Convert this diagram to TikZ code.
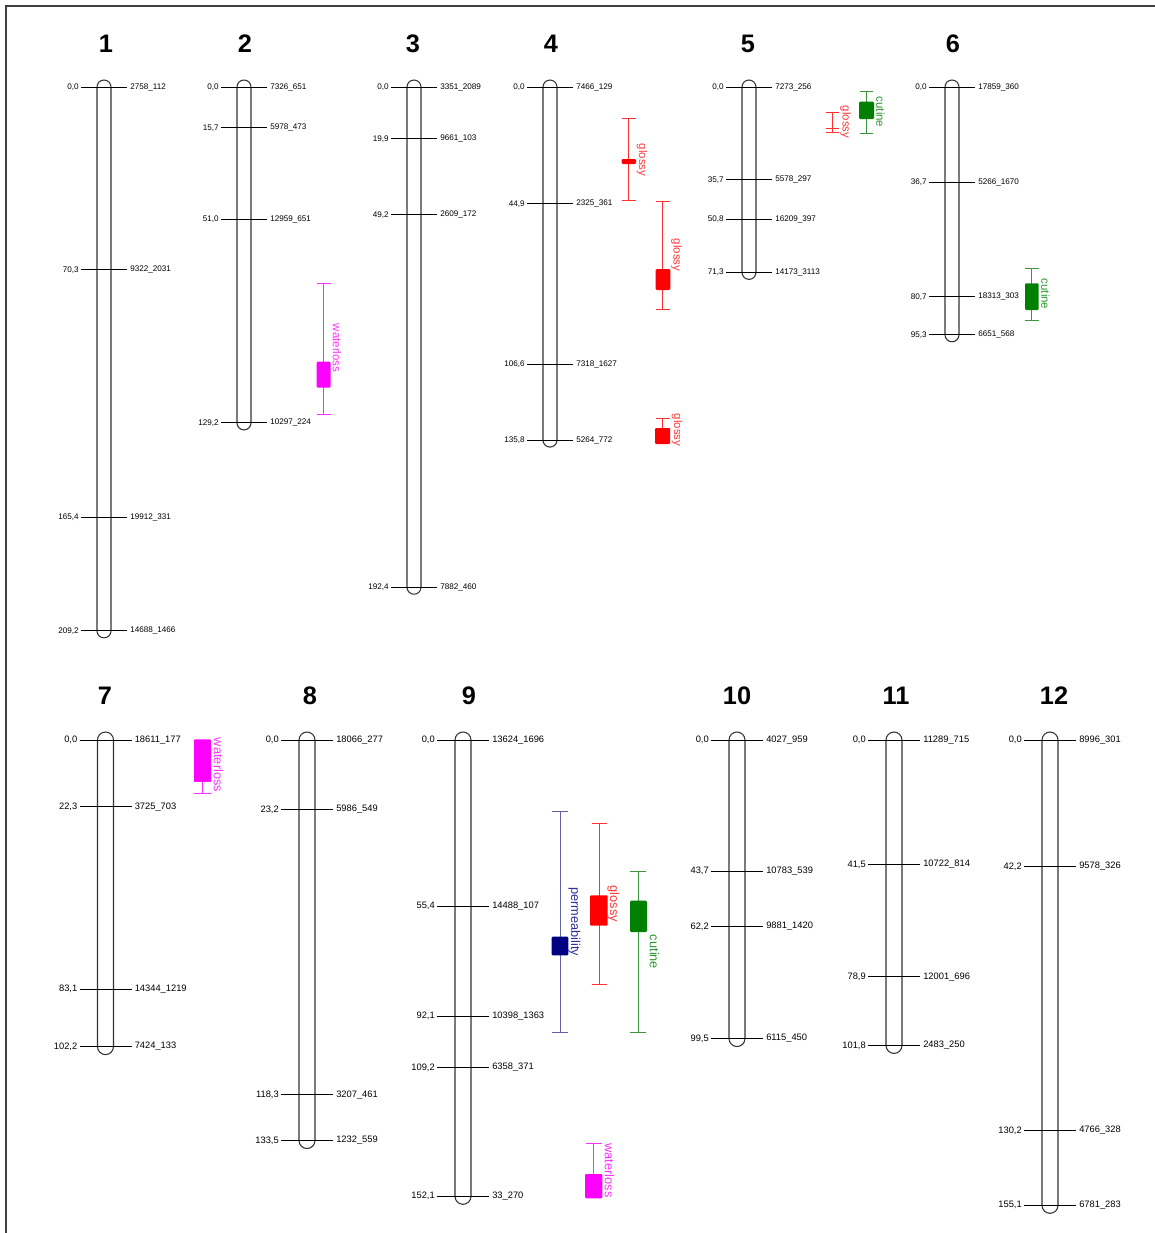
\documentclass[tikz,border=0pt]{standalone}
\usepackage{fontspec}
\setmainfont{Liberation Sans}
\definecolor{glred}{HTML}{FF0000}
\definecolor{glline}{HTML}{FF3030}
\definecolor{gltext}{HTML}{FF3A3A}
\definecolor{cugreen}{HTML}{008000}
\definecolor{culine}{HTML}{3C963C}
\definecolor{cutext}{HTML}{2E962E}
\definecolor{wlmag}{HTML}{FF00FF}
\definecolor{wlline}{HTML}{FF30FF}
\definecolor{pmnavy}{HTML}{000080}
\definecolor{pmline}{HTML}{6262A8}
\definecolor{pmtext}{HTML}{30309A}
\tikzset{
  chrbar/.style={draw=black!80, line width=0.8pt},
  tickln/.style={draw=black, line width=0.75pt},
  toplab/.style={font=\fontsize{6.1}{7}\selectfont, inner sep=0pt},
  botlab/.style={font=\fontsize{7}{8}\selectfont, inner sep=0pt},
  chrnum/.style={font=\fontsize{19}{21}\selectfont\bfseries, inner sep=0pt},
  frameln/.style={draw=black!75, line width=0.8pt},
  gl/.style={draw=glline, line width=0.75pt},
  cu/.style={draw=culine, line width=0.75pt},
  wl/.style={draw=wlline, line width=0.75pt},
  pm/.style={draw=pmline, line width=0.75pt},
  qtop/.style={rotate=-90, inner sep=0pt, font=\fontsize{8.6}{9}\selectfont},
  qbot/.style={rotate=-90, inner sep=0pt, font=\fontsize{9.6}{10}\selectfont},
}
% #1 id, #2 cx, #3 y0, #4 scale, #5 half width, #6 tick half length, #7 length (cM), #8 label style, #9 list
\newcommand\chrom[9]{%
  \draw[chrbar, rounded corners=#5*0.75pt] ({#2-#5},{#3-#5}) rectangle ({#2+#5},{#3+#7*#4+#5});
  \foreach \p/\l/\r [count=\i] in {#9} {
    \draw[tickln] ({#2-#6},{#3+\p*#4}) -- ({#2+#6},{#3+\p*#4});
    \node[#8, anchor=east] (L#1n\i) at ({#2-#6-2},{#3+\p*#4}) {\l};
    \node[#8, anchor=west] (R#1n\i) at ({#2+#6+3},{#3+\p*#4}) {\r};
  }
}
% style, x, ytop, ybot, cap half width
\newcommand\whisk[5]{%
  \draw[#1] (#2,#3) -- (#2,#4);
  \draw[#1] ({#2-#5},#3) -- ({#2+#5},#3);
  \draw[#1] ({#2-#5},#4) -- ({#2+#5},#4);
}
\newcommand\qbox[5]{\fill[#1, rounded corners=0.8pt] (#2,#3) rectangle (#4,#5);}
\begin{document}
\begin{tikzpicture}[x=0.75pt,y=-0.75pt]
\useasboundingbox (0,0) rectangle (1155,1233);
\fill[white] (0,0) rectangle (1155,1233);
\draw[frameln] (6,1233) -- (6,6) -- (1155,6);

% chromosome numbers
\node[chrnum] (n1) at (106,44) {1};
\node[chrnum] (n2) at (245,44) {2};
\node[chrnum] (n3) at (413,44) {3};
\node[chrnum] (n4) at (551,44) {4};
\node[chrnum] (n5) at (748,44) {5};
\node[chrnum] (n6) at (953,44) {6};
\node[chrnum] (n7) at (105,696) {7};
\node[chrnum] (n8) at (310,696) {8};
\node[chrnum] (n9) at (469,696) {9};
\node[chrnum] (n10) at (737,696) {10};
\node[chrnum] (n11) at (896,696) {11};
\node[chrnum] (n12) at (1054,696) {12};

% top row
\chrom{a}{104}{87}{2.6}{7}{23}{209.2}{toplab}{0.0/{0,0}/2758\_112, 70.3/{70,3}/9322\_2031, 165.4/{165,4}/19912\_331, 209.2/{209,2}/14688\_1466}
\chrom{b}{244}{87}{2.6}{7}{23}{129.2}{toplab}{0.0/{0,0}/7326\_651, 15.7/{15,7}/5978\_473, 51.0/{51,0}/12959\_651, 129.2/{129,2}/10297\_224}
\chrom{c}{414}{87}{2.6}{7}{23}{192.4}{toplab}{0.0/{0,0}/3351\_2089, 19.9/{19,9}/9661\_103, 49.2/{49,2}/2609\_172, 192.4/{192,4}/7882\_460}
\chrom{d}{550}{87}{2.6}{7}{23}{135.8}{toplab}{0.0/{0,0}/7466\_129, 44.9/{44,9}/2325\_361, 106.6/{106,6}/7318\_1627, 135.8/{135,8}/5264\_772}
\chrom{e}{749}{87}{2.6}{7}{23}{71.3}{toplab}{0.0/{0,0}/7273\_256, 35.7/{35,7}/5578\_297, 50.8/{50,8}/16209\_397, 71.3/{71,3}/14173\_3113}
\chrom{f}{952}{87}{2.6}{7}{23}{95.3}{toplab}{0.0/{0,0}/17859\_360, 36.7/{36,7}/5266\_1670, 80.7/{80,7}/18313\_303, 95.3/{95,3}/6651\_568}

% bottom row
\chrom{g}{105.5}{740}{3.0}{8}{26}{102.2}{botlab}{0.0/{0,0}/18611\_177, 22.3/{22,3}/3725\_703, 83.1/{83,1}/14344\_1219, 102.2/{102,2}/7424\_133}
\chrom{h}{307}{740}{3.0}{8}{26}{133.5}{botlab}{0.0/{0,0}/18066\_277, 23.2/{23,2}/5986\_549, 118.3/{118,3}/3207\_461, 133.5/{133,5}/1232\_559}
\chrom{i}{463}{740}{3.0}{8}{26}{152.1}{botlab}{0.0/{0,0}/13624\_1696, 55.4/{55,4}/14488\_107, 92.1/{92,1}/10398\_1363, 109.2/{109,2}/6358\_371, 152.1/{152,1}/33\_270}
\chrom{j}{737}{740}{3.0}{8}{26}{99.5}{botlab}{0.0/{0,0}/4027\_959, 43.7/{43,7}/10783\_539, 62.2/{62,2}/9881\_1420, 99.5/{99,5}/6115\_450}
\chrom{k}{894}{740}{3.0}{8}{26}{101.8}{botlab}{0.0/{0,0}/11289\_715, 41.5/{41,5}/10722\_814, 78.9/{78,9}/12001\_696, 101.8/{101,8}/2483\_250}
\chrom{l}{1050}{740}{3.0}{8}{26}{155.1}{botlab}{0.0/{0,0}/8996\_301, 42.2/{42,2}/9578\_326, 130.2/{130,2}/4766\_328, 155.1/{155,1}/6781\_283}

% QTLs, top row
\whisk{wl}{323.5}{283.3}{414}{7}
\qbox{wlmag}{316.7}{361.7}{330.5}{387.7}
\node[qtop, text=wlline] (q1) at (337,348) {waterloss};

\whisk{gl}{628.5}{118}{200.7}{7}
\qbox{glred}{621.7}{159}{636}{164}
\node[qtop, text=gltext] (q2) at (642,160) {glossy};

\whisk{gl}{662.8}{201}{309.3}{7}
\qbox{glred}{655.7}{269}{670.3}{290}
\node[qtop, text=gltext] (q3) at (676.5,255) {glossy};

\whisk{gl}{662.5}{418.3}{428}{7}
\qbox{glred}{655}{428}{670}{444}
\node[qtop, text=gltext] (q4) at (677,430) {glossy};

\draw[gl] (832.7,112.3) -- (832.7,132.7);
\draw[gl] (826.2,112.3) -- (839.2,112.3);
\draw[gl] (826.2,128.7) -- (839.2,128.7);
\draw[gl] (826.2,132.7) -- (839.2,132.7);
\node[qtop, text=gltext] (q5) at (845.5,122) {glossy};

\whisk{cu}{866.7}{91.7}{133.3}{6.5}
\qbox{cugreen}{859}{101.7}{874}{119}
\node[qtop, text=cutext] (q6) at (880.5,112) {cutine};

\whisk{cu}{1031.8}{268.3}{320}{7}
\qbox{cugreen}{1025}{283.3}{1038.7}{310}
\node[qtop, text=cutext] (q7) at (1045.5,294) {cutine};

% QTLs, bottom row
\whisk{wl}{202.5}{781.7}{793.3}{8.5}
\qbox{wlmag}{194}{739.3}{211}{781.7}
\node[qbot, text=wlline] (q8) at (218.5,765) {waterloss};

\whisk{pm}{560}{811}{1032.7}{8.3}
\qbox{pmnavy}{551.7}{936.7}{568.3}{955.3}
\node[qbot, text=pmtext] (q9) at (574.5,921.7) {permeability};

\whisk{gl}{599}{823.3}{984.3}{7.5}
\qbox{glred}{590}{895.3}{607.7}{925.7}
\node[qbot, text=gltext] (q10) at (613.5,904) {glossy};

\whisk{cu}{638.3}{871.3}{1032.7}{8}
\qbox{cugreen}{630}{900.7}{647}{932}
\node[qbot, text=cutext] (q11) at (654.5,952) {cutine};

\whisk{wl}{593.5}{1143.3}{1174}{8}
\qbox{wlmag}{585}{1174}{602.3}{1198.3}
\node[qbot, text=wlline] (q12) at (609.5,1170.5) {waterloss};
\end{tikzpicture}
\end{document}
